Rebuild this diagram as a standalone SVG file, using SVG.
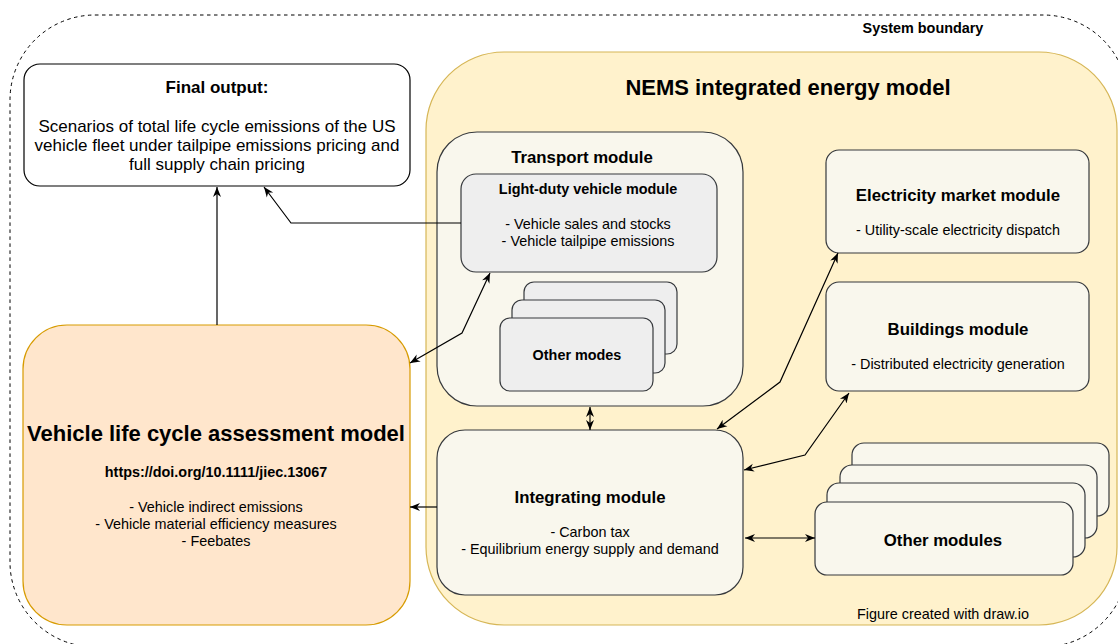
<svg xmlns="http://www.w3.org/2000/svg" width="1118" height="644" viewBox="0 0 1118 644">
<style>
text{font-family:"Liberation Sans",Arial,Helvetica,sans-serif;fill:#000;text-anchor:middle}
.b{font-weight:bold}
.s{font-size:14.4px}
.m{font-size:16.8px}
.l{font-size:17px}
.x{font-size:22px}
.mod{fill:#f9f7ed;stroke:#36393d;stroke-width:1.2}
.grey{fill:#eeeeee;stroke:#36393d;stroke-width:1.2}
.con{fill:none;stroke:#000;stroke-width:1.2}
</style>
<defs>
<marker id="arr" viewBox="0 0 10 10" refX="10" refY="5" markerWidth="10" markerHeight="10" markerUnits="userSpaceOnUse" orient="auto-start-reverse">
<path d="M0,1 L10,5 L0,9 L3,5 z" fill="#000"/>
</marker>
</defs>

<g id="boundary">
<rect x="10" y="15" width="1118" height="632" rx="85" ry="85" fill="none" stroke="#000" stroke-width="1" stroke-dasharray="3.5 3.5"/>
<text class="b s" x="923" y="33">System boundary</text>
</g>

<g id="nems">
<rect x="426" y="52" width="691" height="573" rx="78" ry="78" fill="#fff2cc" stroke="#d6b656" stroke-width="1.2"/>
<text class="b x" x="788" y="95">NEMS integrated energy model</text>
<text class="s" x="943" y="619">Figure created with draw.io</text>
</g>

<g id="final-output">
<rect x="24" y="64" width="386" height="122" rx="16" ry="16" fill="#fff" stroke="#000" stroke-width="1.2"/>
<text class="b l" x="217" y="93">Final output:</text>
<text class="l" x="217" y="132">Scenarios of total life cycle emissions of the US</text>
<text class="l" x="217" y="151">vehicle fleet under tailpipe emissions pricing and</text>
<text class="l" x="217" y="170">full supply chain pricing</text>
</g>

<g id="lca">
<rect x="23" y="325" width="387" height="300" rx="44" ry="44" fill="#ffe6cc" stroke="#d79b00" stroke-width="1.2"/>
<text class="b x" x="216" y="441">Vehicle life cycle assessment model</text>
<text class="b s" x="216" y="477">https://doi.org/10.1111/jiec.13067</text>
<text class="s" x="216" y="512">- Vehicle indirect emissions</text>
<text class="s" x="216" y="529">- Vehicle material efficiency measures</text>
<text class="s" x="216" y="546">- Feebates</text>
</g>

<g id="transport">
<rect class="mod" x="437" y="132" width="306" height="274" rx="40" ry="40"/>
<text class="b m" x="582" y="163">Transport module</text>
</g>

<g id="light-duty">
<rect class="grey" x="461" y="174" width="256" height="98" rx="15" ry="15"/>
<text class="b s" x="588" y="194">Light-duty vehicle module</text>
<text class="s" x="588" y="229">- Vehicle sales and stocks</text>
<text class="s" x="588" y="246">- Vehicle tailpipe emissions</text>
</g>

<g id="other-modes">
<rect class="grey" x="524" y="282" width="153" height="72" rx="10" ry="10"/>
<rect class="grey" x="512" y="300" width="153" height="73" rx="10" ry="10"/>
<rect class="grey" x="500" y="318" width="153" height="73" rx="10" ry="10"/>
<text class="b s" x="577" y="360">Other modes</text>
</g>

<g id="integrating">
<rect class="mod" x="437" y="430" width="306" height="165" rx="28" ry="28"/>
<text class="b m" x="590" y="503">Integrating module</text>
<text class="s" x="590" y="537">- Carbon tax</text>
<text class="s" x="590" y="554">- Equilibrium energy supply and demand</text>
</g>

<g id="electricity">
<rect class="mod" x="826" y="150" width="263" height="103" rx="13" ry="13"/>
<text class="b m" x="958" y="201">Electricity market module</text>
<text class="s" x="958" y="235">- Utility-scale electricity dispatch</text>
</g>

<g id="buildings">
<rect class="mod" x="826" y="282" width="263" height="109" rx="13" ry="13"/>
<text class="b m" x="958" y="335">Buildings module</text>
<text class="s" x="958" y="369">- Distributed electricity generation</text>
</g>

<g id="other-modules">
<rect class="mod" x="852" y="443" width="257" height="73" rx="12" ry="12"/>
<rect class="mod" x="840" y="465" width="257" height="73" rx="12" ry="12"/>
<rect class="mod" x="827" y="483" width="258" height="74" rx="12" ry="12"/>
<rect class="mod" x="815" y="502" width="258" height="73" rx="12" ry="12"/>
<text class="b m" x="943" y="546">Other modules</text>
</g>

<g id="connectors">
<path class="con" d="M217,325 V187" marker-end="url(#arr)"/>
<path class="con" d="M461,223 H291 L264,187" stroke="#333" marker-end="url(#arr)"/>
<path class="con" d="M410,363 L462,333 L490,273" marker-start="url(#arr)" marker-end="url(#arr)"/>
<path class="con" d="M590,407 V430" marker-start="url(#arr)" marker-end="url(#arr)"/>
<path class="con" d="M717,429 L780,382 L838,253" marker-start="url(#arr)" marker-end="url(#arr)"/>
<path class="con" d="M744,470 L805,455 L849,393" marker-start="url(#arr)" marker-end="url(#arr)"/>
<path class="con" d="M745,538 H815" marker-start="url(#arr)" marker-end="url(#arr)"/>
<path class="con" d="M437,507 H410" marker-end="url(#arr)"/>
</g>
</svg>
